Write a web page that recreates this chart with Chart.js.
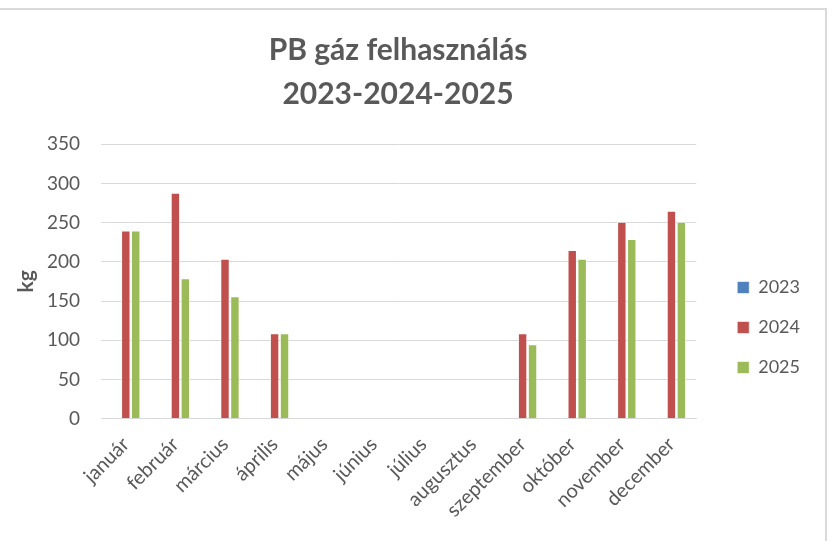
<!DOCTYPE html>
<html>
<head>
<meta charset="utf-8">
<script src="https://cdn.jsdelivr.net/npm/chart.js@4/dist/chart.umd.min.js"></script>
<style>
html,body{margin:0;padding:0;background:#fff;}
#wrap{position:relative;width:833px;height:541px;}
#frame{position:absolute;left:-2px;top:8px;width:829px;height:540px;border-top:2px solid #d9d9d9;border-right:2px solid #d9d9d9;box-sizing:border-box;pointer-events:none;}
canvas{position:absolute;left:0;top:0;}
</style>
</head>
<body>
<div id="wrap">
<canvas id="c" width="833" height="541"></canvas>
<div id="frame"></div>
</div>
<script>
const months = ["január","február","március","április","május","június","július","augusztus","szeptember","október","november","december"];
const series2023 = [null,null,null,null,null,null,null,null,null,null,null,null];
const series2024 = [240,288,204,109,null,null,null,null,109,215,251,265];
const series2025 = [240,179,156,109,null,null,null,null,95,204,229,251];
const yTicks = [0,50,100,150,200,250,300,350];
const titleLines = ["PB gáz felhasználás","2023-2024-2025"];

const gray = "#595959";
const FONT = "Lato, 'Open Sans', sans-serif";

const shiftTitle = {
  id:"shiftTitle",
  afterLayout(chart){
    const t = chart.titleBlock;
    if(t){ t.left -= 12; t.right -= 12; }
  }
};

new Chart(document.getElementById("c"), {
  type: "bar",
  data: {
    labels: months,
    datasets: [
      {label:"2023", data:series2023, backgroundColor:"#4F81BD", borderColor:"rgba(255,255,255,0.6)", borderWidth:1},
      {label:"2024", data:series2024, backgroundColor:"#C0504D", borderColor:"rgba(255,255,255,0.6)", borderWidth:1},
      {label:"2025", data:series2025, backgroundColor:"#9BBB59", borderColor:"rgba(255,255,255,0.6)", borderWidth:1}
    ]
  },
  options: {
    responsive:false,
    animation:false,
    devicePixelRatio:1,
    layout:{padding:{left:10,right:23,top:14,bottom:5}},
    datasets:{bar:{categoryPercentage:0.6,barPercentage:0.95}},
    plugins:{
      title:{display:true,text:titleLines,color:gray,font:{family:FONT,size:30,weight:"bold",lineHeight:1.47},padding:{top:14,bottom:28}},
      legend:{position:"right",
        title:{display:true,text:" ",font:{size:10},padding:{top:0,bottom:93}},
        labels:{color:gray,font:{family:FONT,size:18},boxWidth:12,boxHeight:12,padding:22}},
      tooltip:{enabled:false}
    },
    scales:{
      x:{
        grid:{display:false,drawTicks:false},
        border:{color:"#d9d9d9",width:1},
        ticks:{color:gray,font:{family:FONT,size:20},maxRotation:45,minRotation:45,padding:14}
      },
      y:{
        min:0,max:350,
        afterBuildTicks:(ax)=>{ax.ticks = yTicks.map(v=>({value:v}));},
        afterFit:(ax)=>{ax.width = 91;},
        grid:{color:"#d9d9d9",lineWidth:1,drawTicks:false},
        border:{display:false},
        ticks:{color:gray,font:{family:FONT,size:19},padding:21},
        title:{display:true,text:"kg",color:gray,font:{family:FONT,size:21,weight:"bold"},padding:{top:4,bottom:8}}
      },
      gap:{
        type:"linear",position:"right",display:true,
        grid:{display:false,drawTicks:false},border:{display:false},
        ticks:{display:false},
        afterFit:(ax)=>{ax.width = 19;}
      }
    }
  },
  plugins:[shiftTitle]
});
</script>
</body>
</html>
